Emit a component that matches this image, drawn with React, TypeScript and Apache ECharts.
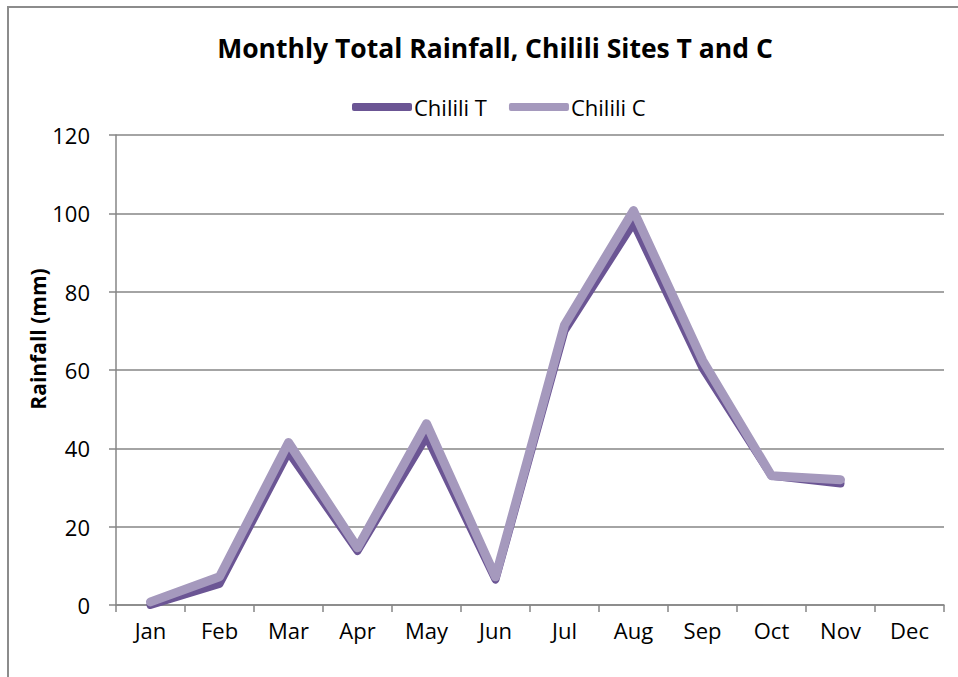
import React, { useEffect, useRef } from "react";
import * as echarts from "echarts";

const months = ["Jan", "Feb", "Mar", "Apr", "May", "Jun", "Jul", "Aug", "Sep", "Oct", "Nov", "Dec"];
const chililiT = [0, 5.4, 39, 13.8, 43, 6.5, 70, 97.5, 60.5, 33, 31, null];
const chililiC = [0.8, 7.2, 41.5, 14.6, 46.3, 7.2, 71.5, 100.7, 62.5, 33, 32, null];
const yTicks = { min: 0, max: 120, interval: 20 };

export default function App() {
  const ref = useRef<HTMLDivElement>(null);
  useEffect(() => {
    if (!ref.current) return;
    const chart = echarts.init(ref.current, undefined, { renderer: "svg" });
    const font = "Open Sans";
    chart.setOption({
      animation: false,
      backgroundColor: "#ffffff",
      title: {
        text: "Monthly Total Rainfall, Chilili Sites T and C",
        left: 490,
        textAlign: "center",
        top: 29,
        textStyle: { fontFamily: font, fontSize: 26.5, fontWeight: "bold", color: "#000" },
      },
      legend: {
        top: 91,
        left: 347,
        itemWidth: 60,
        itemHeight: 8,
        itemGap: 22,
        icon: "roundRect",
        textStyle: { fontFamily: font, fontSize: 22, color: "#000", padding: [0, 0, 0, -3] },
        data: ["Chilili T", "Chilili C"],
      },
      graphic: [
        {
          type: "rect",
          shape: { x: 8, y: 7, width: 1000, height: 700 },
          style: { fill: "none", stroke: "#8c8c8c", lineWidth: 2 },
          silent: true,
        },
        {
          type: "text",
          x: 38,
          y: 339,
          rotation: Math.PI / 2,
          style: {
            text: "Rainfall (mm)",
            fontFamily: font,
            fontSize: 21,
            fontWeight: "bold",
            fill: "#000",
            textAlign: "center",
            textVerticalAlign: "middle",
          },
        },
      ],
      grid: { left: 116, right: 14, top: 135, bottom: 72, containLabel: false },
      xAxis: {
        type: "category",
        data: months,
        boundaryGap: true,
        axisLine: { lineStyle: { color: "#868686", width: 1.5 } },
        axisTick: { show: true, length: 7, lineStyle: { color: "#868686", width: 1.5 } },
        axisLabel: { fontFamily: font, fontSize: 22, color: "#000", margin: 14 },
      },
      yAxis: {
        type: "value",
        min: yTicks.min,
        max: yTicks.max,
        interval: yTicks.interval,
        axisLine: { show: true, lineStyle: { color: "#868686", width: 1.5 } },
        axisTick: { show: true, length: 7, lineStyle: { color: "#868686", width: 1.5 } },
        splitLine: { lineStyle: { color: "#868686", width: 1.5 } },
        axisLabel: { fontFamily: font, fontSize: 22, color: "#000", margin: 26 },
      },
      series: [
        {
          name: "Chilili T",
          type: "line",
          data: chililiT,
          showSymbol: false,
          symbol: "none",
          color: "#6b5594",
          lineStyle: { width: 8, color: "#6b5594", cap: "round", join: "round" },
          z: 2,
        },
        {
          name: "Chilili C",
          type: "line",
          data: chililiC,
          showSymbol: false,
          symbol: "none",
          color: "#a599bd",
          lineStyle: { width: 9, color: "#a599bd", cap: "round", join: "round" },
          z: 3,
        },
      ],
    });
    return () => chart.dispose();
  }, []);
  return (
    <div
      ref={ref}
      style={{ position: "absolute", left: 0, top: 0, width: 958, height: 677 }}
    />
  );
}
